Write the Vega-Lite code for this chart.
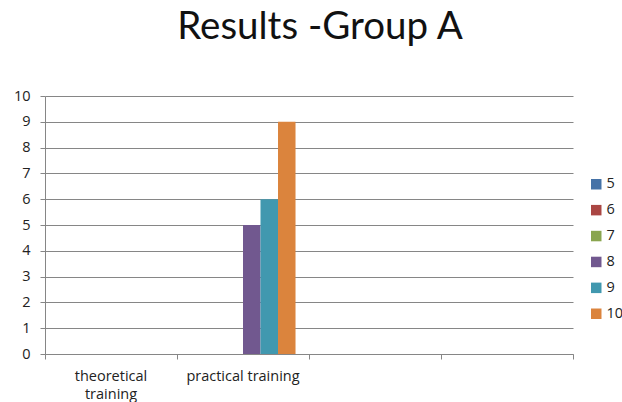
{
  "$schema": "https://vega.github.io/schema/vega-lite/v6.json",
  "autosize": "none",
  "width": 528,
  "height": 258,
  "padding": {"left": 45, "top": 96, "right": 49, "bottom": 48},
  "background": "white",
  "title": {
    "text": "Results -Group A",
    "font": "Lato",
    "fontSize": 38.5,
    "fontWeight": "normal",
    "color": "#111111",
    "anchor": "middle",
    "dx": 11,
    "offset": 41
  },
  "data": {
    "values": [
      {"category": "theoretical training", "series": "5", "value": 0},
      {"category": "theoretical training", "series": "6", "value": 0},
      {"category": "theoretical training", "series": "7", "value": 0},
      {"category": "theoretical training", "series": "8", "value": 0},
      {"category": "theoretical training", "series": "9", "value": 0},
      {"category": "theoretical training", "series": "10", "value": 0},
      {"category": "practical training", "series": "5", "value": 0},
      {"category": "practical training", "series": "6", "value": 0},
      {"category": "practical training", "series": "7", "value": 0},
      {"category": "practical training", "series": "8", "value": 5},
      {"category": "practical training", "series": "9", "value": 6},
      {"category": "practical training", "series": "10", "value": 9}
    ]
  },
  "mark": {"type": "bar"},
  "encoding": {
    "x": {
      "field": "category",
      "type": "nominal",
      "scale": {
        "domain": ["theoretical training", "practical training", "c3", "c4"],
        "paddingInner": 0,
        "paddingOuter": 0
      },
      "axis": {
        "title": null,
        "labelAngle": 0,
        "labelFont": "Open Sans",
        "labelFontSize": 14.5,
        "labelColor": "#222222",
        "labelExpr": "datum.label == 'theoretical training' ? ['theoretical', 'training'] : (datum.label == 'practical training' ? datum.label : '')",
        "labelPadding": 10,
        "labelLineHeight": 18,
        "bandPosition": 1,
        "tickExtra": true,
        "tickSize": 5,
        "tickColor": "#868686",
        "domainColor": "#868686",
        "grid": false
      }
    },
    "xOffset": {
      "field": "series",
      "type": "nominal",
      "scale": {
        "domain": ["5", "6", "7", "8", "9", "10"],
        "paddingInner": 0,
        "paddingOuter": 0.77
      }
    },
    "y": {
      "field": "value",
      "type": "quantitative",
      "scale": {"domain": [0, 10], "nice": false},
      "axis": {
        "title": null,
        "values": [0, 1, 2, 3, 4, 5, 6, 7, 8, 9, 10],
        "labelFont": "Open Sans",
        "labelFontSize": 14.5,
        "labelColor": "#222222",
        "labelPadding": 10,
        "tickSize": 5,
        "tickColor": "#868686",
        "domainColor": "#868686",
        "gridColor": "#868686",
        "gridWidth": 1
      }
    },
    "color": {
      "field": "series",
      "type": "nominal",
      "scale": {
        "domain": ["5", "6", "7", "8", "9", "10"],
        "range": ["#4572A7", "#AA4643", "#89A54E", "#71588F", "#4198AF", "#DB843D"]
      },
      "legend": {
        "title": null,
        "orient": "none",
        "legendX": 544,
        "legendY": 81,
        "padding": 0,
        "symbolType": "square",
        "symbolSize": 110,
        "symbolStrokeWidth": 0,
        "labelFont": "Open Sans",
        "labelFontSize": 14.5,
        "labelColor": "#222222",
        "labelOffset": 3,
        "rowPadding": 10.9
      }
    }
  },
  "config": {
    "view": {"stroke": null}
  }
}
